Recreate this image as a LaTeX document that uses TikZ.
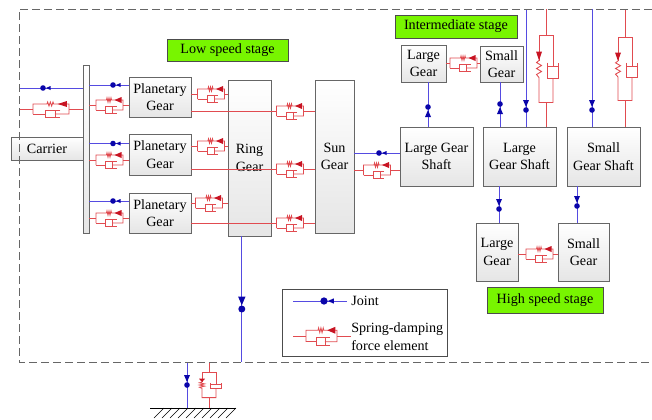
\documentclass[tikz,border=0pt]{standalone}
\usepackage{fontspec}
\setmainfont{Liberation Serif}
\definecolor{jointblue}{RGB}{85,75,225}
\definecolor{jointdark}{RGB}{10,5,170}
\definecolor{sdred}{RGB}{225,75,80}
\definecolor{sddark}{RGB}{200,20,35}
\definecolor{stagegreen}{RGB}{120,245,0}
\tikzset{
	wh/.style 2 args={minimum width=#1*0.75pt, minimum height=#2*0.75pt},
	gearbox/.style={draw=black!60, line width=0.6pt, top color=white, bottom color=black!10, inner sep=0pt, align=center, font=\fontsize{10.6}{13}\selectfont},
	stagebox/.style={draw=black!70, line width=0.6pt, fill=stagegreen, inner sep=0pt, font=\fontsize{10.6}{13}\selectfont},
	legendtext/.style={inner sep=0pt, align=left, font=\fontsize{10.6}{13}\selectfont},
	jointline/.style={draw=jointblue, line width=0.65pt},
	sdline/.style={draw=sdred, line width=0.65pt},
	joint/.pic={
		\fill[jointdark] (0,0) circle (2.8);
		\fill[jointdark] (3,0) -- (7.5,-2) -- (7.5,2) -- cycle;
	},
	vjoint/.pic={
		\fill[jointdark] (0,0) circle (2.8);
		\fill[jointdark] (3,0) -- (10,-3) -- (10,3) -- cycle;
	},
	sd/.pic={
		\coordinate (-w) at (-13.5,0);
		\coordinate (-e) at (13.5,0);
		\draw[sdline] (-13.5,5) -- (-13.5,-5) -- (-3,-5) -- (-2.5,-7) -- (-1.5,-3) -- (-0.5,-7) -- (0.5,-3) -- (1.5,-7) -- (2,-5) -- (13.5,-5) -- (13.5,5) -- (3,5);
		\draw[sdline] (-13.5,5) -- (-4,5);
		\draw[sdline] (7,1.5) -- (-4,1.5) -- (-4,8.5) -- (7,8.5);
		\draw[sdline] (3,1.5) -- (3,8.5);
		\fill[sddark] (5,-5) -- (12,-8) -- (12,-2) -- cycle;
	},
	vsd/.pic={
		\coordinate (-t) at (0,-33);
		\coordinate (-b) at (0,34);
		\draw[sdline] (-7,-8) -- (-7,-33) -- (7,-33) -- (7,-2);
		\draw[sdline] (-7,-8) -- (-9.5,-6) -- (-4.5,-3) -- (-9.5,0) -- (-4.5,3) -- (-9.5,6) -- (-7,9) -- (-7,34) -- (7,34) -- (7,10);
		\draw[sdline] (1.5,-2) -- (12.5,-2);
		\draw[sdline] (1.5,-6) -- (1.5,10) -- (12.5,10) -- (12.5,-6);
		\fill[sddark] (-7,-8) -- (-10,-17) -- (-4,-17) -- cycle;
	},
}
\begin{document}
\begin{tikzpicture}[x=0.75pt,y=-0.75pt]

	\useasboundingbox (0,0) rectangle (652,419);

	% define point

	\coordinate (Top)  at (0,9);
	\coordinate (FrameNW)  at (19,9);
	\coordinate (FrameNE)  at (652,9);
	\coordinate (FrameSW)  at (19,362);
	\coordinate (FrameSE)  at (652,362);
	\coordinate (GroundW)  at (150,408);
	\coordinate (GroundE)  at (236,408);

	\coordinate (JointA)  at (43,88);
	\coordinate (JointB)  at (113,85);
	\coordinate (JointC)  at (113,143.5);
	\coordinate (JointD)  at (113,201);
	\coordinate (JointE)  at (379,153);
	\coordinate (JointF)  at (428,107);
	\coordinate (JointG)  at (500,104);
	\coordinate (JointH)  at (526,110);
	\coordinate (JointI)  at (592,110);
	\coordinate (JointJ)  at (499,209);
	\coordinate (JointK)  at (577,206);
	\coordinate (JointL)  at (241.8,309);
	\coordinate (JointM)  at (187,385);
	\coordinate (JointN)  at (324,301);

	% gears

	\node[gearbox, wh={72}{23}] (Carrier) at (47,148.5) {Carrier};
	\node[gearbox, wh={6}{168}] (Bar) at (86,149) {};
	\node[gearbox, wh={62}{40}] (PlanetA) at (160,97) {Planetary\\Gear};
	\node[gearbox, wh={62}{41}] (PlanetB) at (160,154.5) {Planetary\\Gear};
	\node[gearbox, wh={62}{40}] (PlanetC) at (160,213) {Planetary\\Gear};
	\node[gearbox, wh={43}{156}] (Ring) at (249.5,158) {Ring\\Gear};
	\node[gearbox, wh={39}{153}] (Sun) at (334.5,156.5) {Sun\\Gear};
	\node[gearbox, wh={73}{59}] (ShaftA) at (436.5,156.5) {Large Gear\\Shaft};
	\node[gearbox, wh={73}{59}] (ShaftB) at (519.5,156.5) {Large\\Gear Shaft};
	\node[gearbox, wh={73}{59}] (ShaftC) at (603.5,156.5) {Small\\Gear Shaft};
	\node[gearbox, wh={45}{37}] (LargeA) at (423.5,63.5) {Large\\Gear};
	\node[gearbox, wh={43}{36}] (SmallA) at (501.5,64) {Small\\Gear};
	\node[gearbox, wh={42}{58}] (LargeB) at (497,252) {Large\\Gear};
	\node[gearbox, wh={51}{58}] (SmallB) at (583.5,252) {Small\\Gear};

	% stages

	\node[stagebox, wh={121}{22}] (LowStage) at (227.5,50) {Low speed stage};
	\node[stagebox, wh={122}{23}] (MidStage) at (456,26.5) {Intermediate stage};
	\node[stagebox, wh={116}{26}] (HighStage) at (545,300) {High speed stage};

	% joints

	\draw[jointline] (FrameNW |- JointA) -- (Bar.west |- JointA);
	\draw[jointline] (Bar.east |- JointB) -- (PlanetA.west |- JointB);
	\draw[jointline] (Bar.east |- JointC) -- (PlanetB.west |- JointC);
	\draw[jointline] (Bar.east |- JointD) -- (PlanetC.west |- JointD);
	\draw[jointline] (Sun.east |- JointE) -- (ShaftA.west |- JointE);
	\draw[jointline] (JointF |- LargeA.south) -- (JointF |- ShaftA.north);
	\draw[jointline] (JointG |- SmallA.south) -- (JointG |- ShaftB.north);
	\draw[jointline] (JointH |- Top) -- (JointH |- ShaftB.north);
	\draw[jointline] (JointI |- Top) -- (JointI |- ShaftC.north);
	\draw[jointline] (JointJ |- ShaftB.south) -- (JointJ |- LargeB.north);
	\draw[jointline] (JointK |- ShaftC.south) -- (JointK |- SmallB.north);
	\draw[jointline] (JointL |- Ring.south) -- (JointL |- FrameSW);
	\draw[jointline] (JointM |- FrameSW) -- (JointM |- GroundW);

	\pic at (JointA) {joint};
	\pic at (JointB) {joint};
	\pic at (JointC) {joint};
	\pic at (JointD) {joint};
	\pic at (JointE) {joint};
	\pic[rotate=-90] at (JointF) {vjoint};
	\pic[rotate=-90] at (JointG) {vjoint};
	\pic[rotate=90] at (JointH) {vjoint};
	\pic[rotate=90] at (JointI) {vjoint};
	\pic[rotate=90] at (JointJ) {vjoint};
	\pic[rotate=90] at (JointK) {vjoint};
	\pic[rotate=90,scale=1.25] at (JointL) {vjoint};
	\pic[rotate=90] at (JointM) {vjoint};

	% spring-damping elements

	\pic[xscale=1.33] (SdA) at (51,109) {sd};
	\pic (SdB) at (109.5,105) {sd};
	\pic (SdC) at (109.5,160) {sd};
	\pic (SdD) at (109.5,218) {sd};
	\pic (SdE) at (211,94) {sd};
	\pic (SdF) at (211,146) {sd};
	\pic (SdG) at (209,203) {sd};
	\pic (SdH) at (290,111) {sd};
	\pic (SdI) at (290,169) {sd};
	\pic (SdJ) at (290,223) {sd};
	\pic (SdK) at (377,170) {sd};
	\pic (SdL) at (463.5,63) {sd};
	\pic (SdM) at (539.5,254) {sd};

	\draw[sdline] (FrameNW |- SdA-w) -- (SdA-w);
	\draw[sdline] (SdA-e) -- (Bar.west |- SdA-e);
	\draw[sdline] (Bar.east |- SdB-w) -- (SdB-w);
	\draw[sdline] (SdB-e) -- (PlanetA.west |- SdB-e);
	\draw[sdline] (Bar.east |- SdC-w) -- (SdC-w);
	\draw[sdline] (SdC-e) -- (PlanetB.west |- SdC-e);
	\draw[sdline] (Bar.east |- SdD-w) -- (SdD-w);
	\draw[sdline] (SdD-e) -- (PlanetC.west |- SdD-e);
	\draw[sdline] (PlanetA.east |- SdE-w) -- (SdE-w);
	\draw[sdline] (SdE-e) -- (Ring.west |- SdE-e);
	\draw[sdline] (PlanetB.east |- SdF-w) -- (SdF-w);
	\draw[sdline] (SdF-e) -- (Ring.west |- SdF-e);
	\draw[sdline] (PlanetC.east |- SdG-w) -- (SdG-w);
	\draw[sdline] (SdG-e) -- (Ring.west |- SdG-e);
	\draw[sdline] (PlanetA.east |- SdH-w) -- (SdH-w);
	\draw[sdline] (SdH-e) -- (Sun.west |- SdH-e);
	\draw[sdline] (PlanetB.east |- SdI-w) -- (SdI-w);
	\draw[sdline] (SdI-e) -- (Sun.west |- SdI-e);
	\draw[sdline] (PlanetC.east |- SdJ-w) -- (SdJ-w);
	\draw[sdline] (SdJ-e) -- (Sun.west |- SdJ-e);
	\draw[sdline] (Sun.east |- SdK-w) -- (SdK-w);
	\draw[sdline] (SdK-e) -- (ShaftA.west |- SdK-e);
	\draw[sdline] (LargeA.east |- SdL-w) -- (SdL-w);
	\draw[sdline] (SdL-e) -- (SmallA.west |- SdL-e);
	\draw[sdline] (LargeB.east |- SdM-w) -- (SdM-w);
	\draw[sdline] (SdM-e) -- (SmallB.west |- SdM-e);

	\pic (VsdA) at (546,68.5) {vsd};
	\pic[yscale=0.94] (VsdB) at (625,68.5) {vsd};
	\pic[yscale=0.37] (VsdC) at (209,385) {vsd};

	\draw[sdline] (VsdA-t |- Top) -- (VsdA-t);
	\draw[sdline] (VsdA-b) -- (VsdA-b |- ShaftB.north);
	\draw[sdline] (VsdB-t |- Top) -- (VsdB-t);
	\draw[sdline] (VsdB-b) -- (VsdB-b |- ShaftC.north);
	\draw[sdline] (VsdC-t |- FrameSW) -- (VsdC-t);
	\draw[sdline] (VsdC-b) -- (VsdC-b |- GroundW);

	% ground

	\draw[line width=0.6pt] (GroundW) -- (GroundE);
	\draw[line width=0.4pt] (154,418) -- (164,408) (162,418) -- (172,408) (170,418) -- (180,408) (178,418) -- (188,408) (186,418) -- (196,408) (194,418) -- (204,408) (202,418) -- (212,408) (210,418) -- (220,408) (218,418) -- (228,408) (226,418) -- (236,408);

	% frame

	\draw[black!60, line width=0.7pt, dash pattern=on 6pt off 3pt] (FrameNE) -- (FrameNW) -- (FrameSW) -- (FrameSE);

	% legend

	\node[draw=black!70, line width=0.6pt, wh={165}{67}, inner sep=0pt] (Legend) at (364.5,322.5) {};
	\coordinate (LegendA) at (293,301);
	\coordinate (LegendB) at (347,301);
	\draw[jointline] (LegendA) -- (LegendB);
	\pic[scale=1.3] at (JointN) {joint};
	\node[legendtext, anchor=west] (JointText) at (351,301) {Joint};
	\pic[scale=1.15] (SdN) at (321.5,336) {sd};
	\coordinate (LegendC) at (293,336);
	\coordinate (LegendD) at (351,336);
	\draw[sdline] (LegendC) -- (SdN-w);
	\draw[sdline] (SdN-e) -- (LegendD);
	\node[legendtext, anchor=west] (SdText) at (351,336.5) {Spring-damping\\force element};

\end{tikzpicture}
\end{document}
